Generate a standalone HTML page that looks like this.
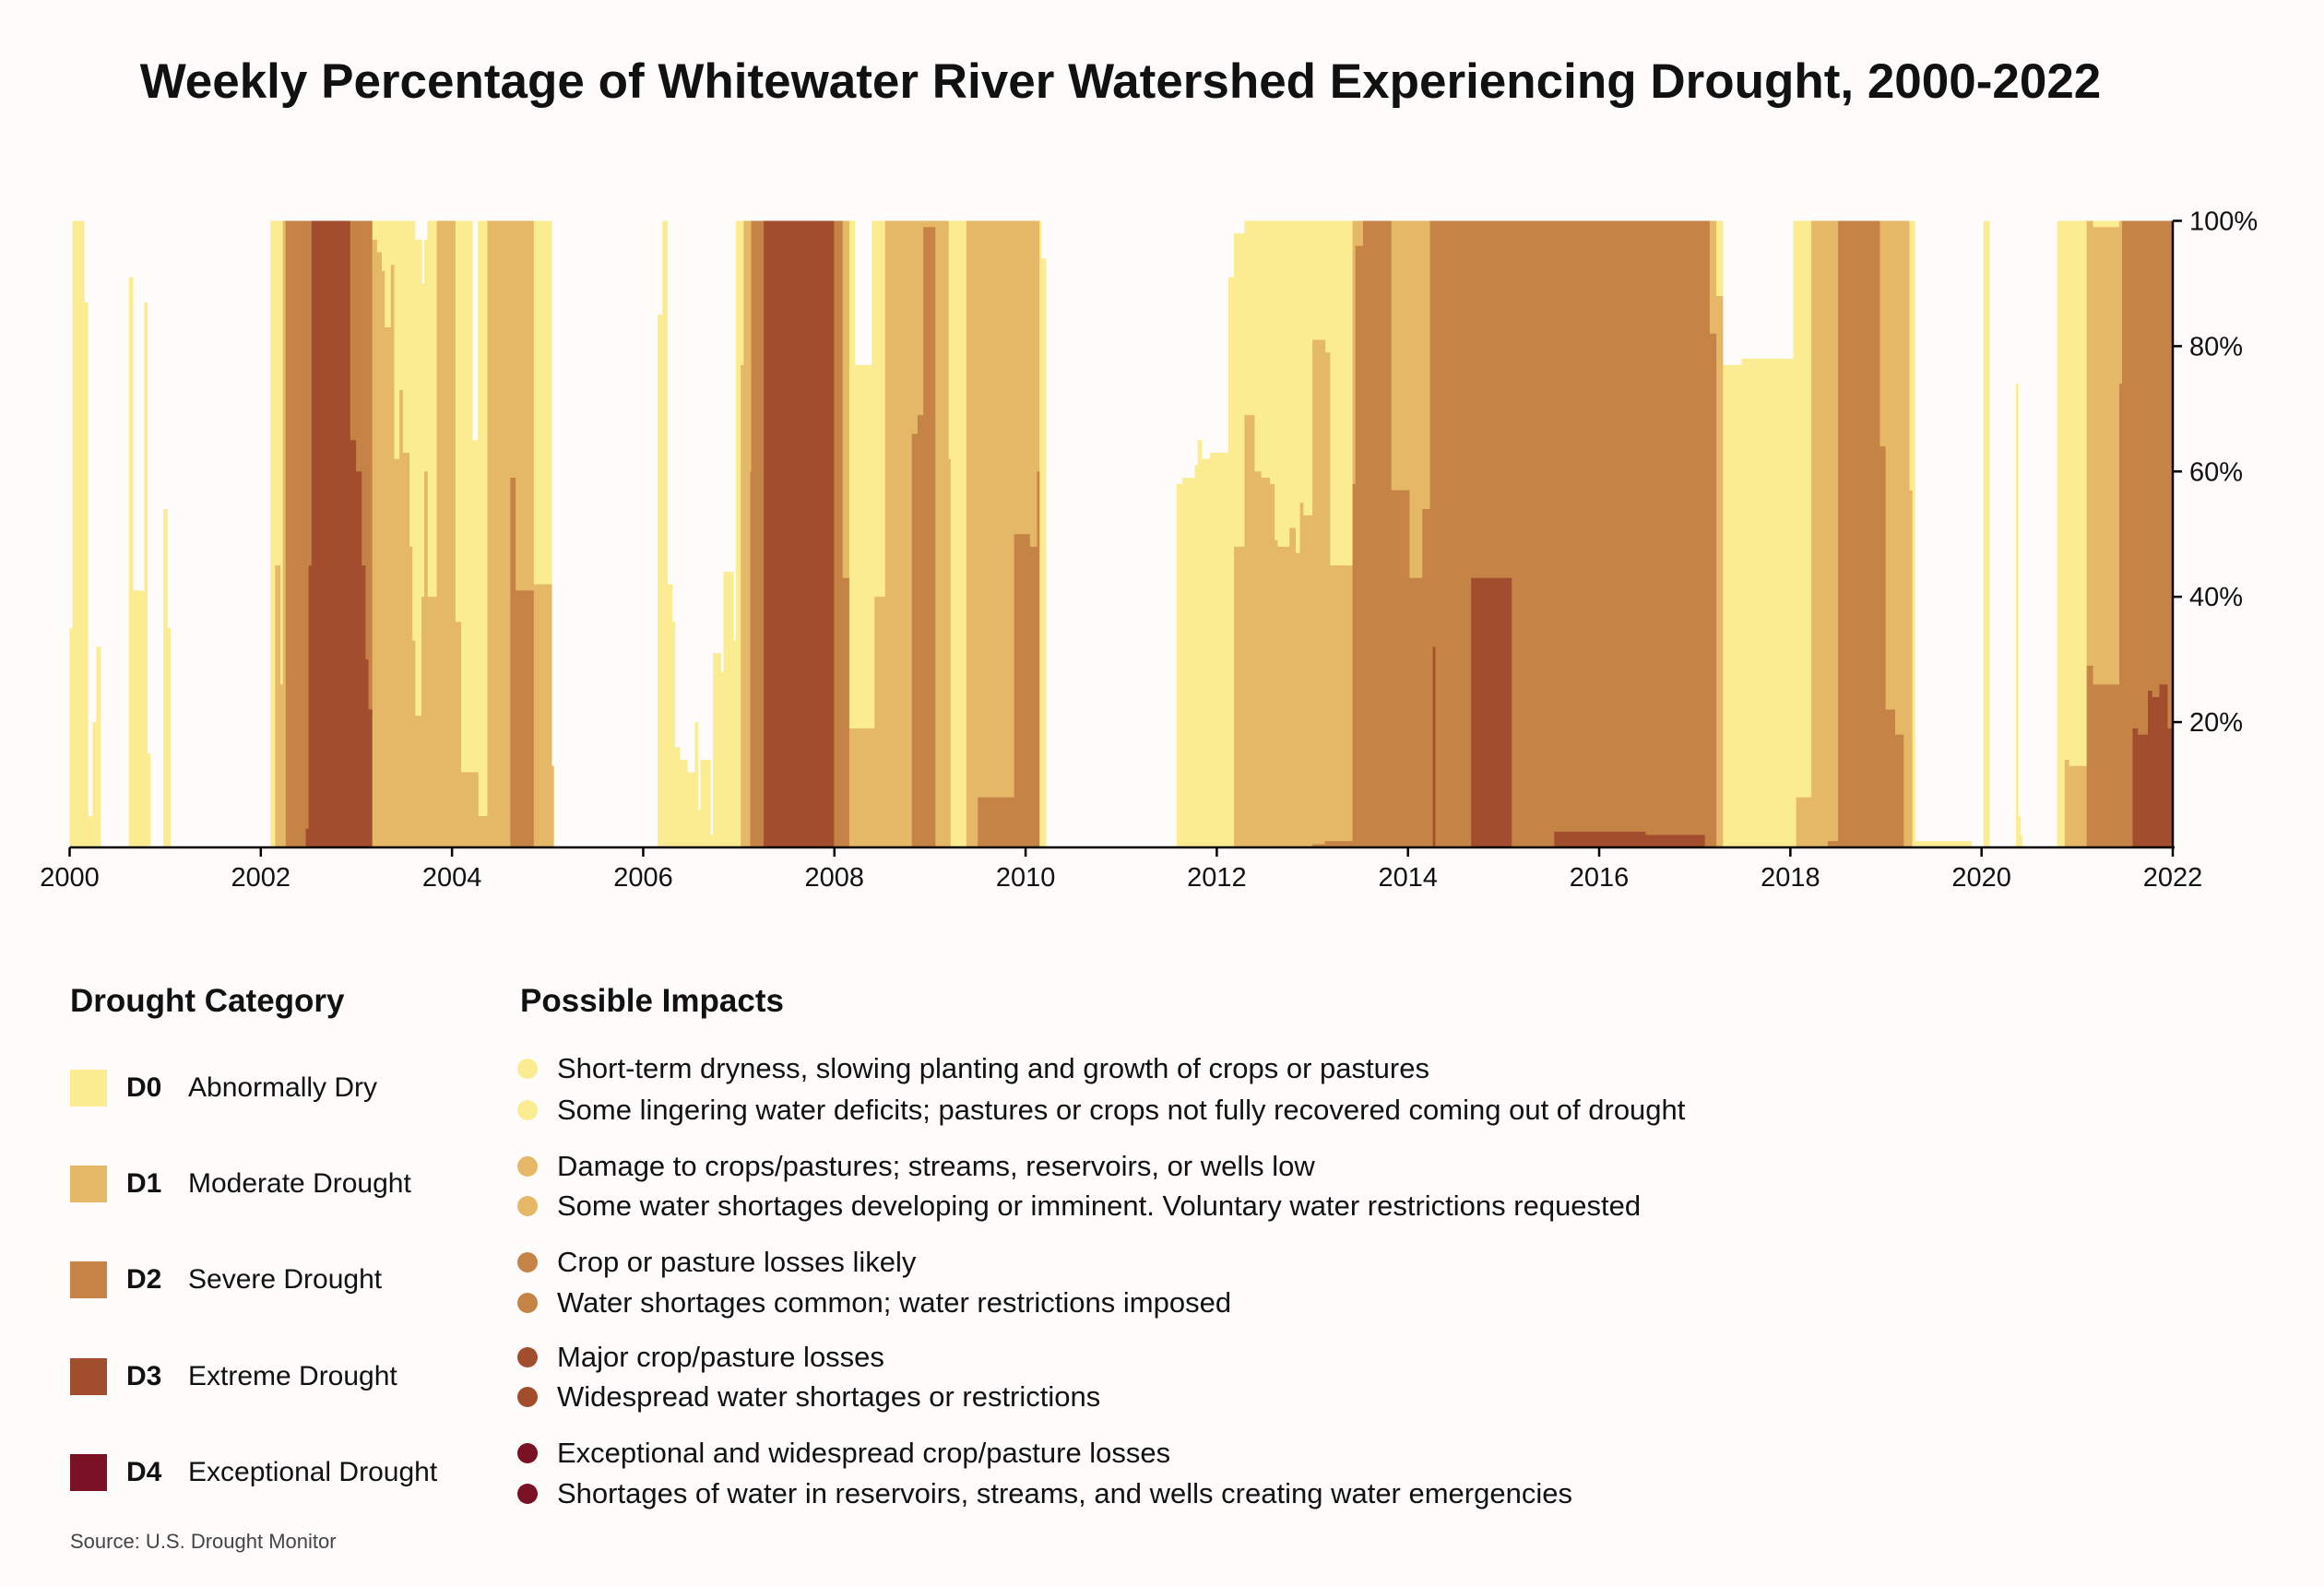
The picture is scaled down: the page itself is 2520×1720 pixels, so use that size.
<!DOCTYPE html>
<html><head><meta charset="utf-8">
<style>
html,body{margin:0;padding:0;background:#fefbfb;}
body{width:2520px;height:1720px;position:relative;overflow:hidden;font-family:"Liberation Sans",sans-serif;color:#111;}
.abs{position:absolute;white-space:nowrap;}
.title{left:0;width:2430px;text-align:center;top:58px;font-size:53px;font-weight:bold;}
.h{font-size:35px;font-weight:bold;}
.sw{width:40px;height:40px;}
.lab{font-size:30px;}
.dot{width:22px;height:22px;border-radius:50%;}
.imp{font-size:31px;}
</style></head><body>
<div class="abs title">Weekly Percentage of Whitewater River Watershed Experiencing Drought, 2000-2022</div>
<svg id="chart" width="2520" height="1040" style="position:absolute;left:0;top:0"></svg>

<div class="abs h" style="left:76px;top:1066px">Drought Category</div>
<div class="abs h" style="left:564px;top:1066px">Possible Impacts</div>
<div id="legend"></div>
<div class="abs" style="left:76px;top:1659px;font-size:22px;color:#444">Source: U.S. Drought Monitor</div>

<script>
// segment start (years since 2000) and cumulative % at or above each category
const segStart=[0,0.03,0.15,0.19,0.24,0.28,0.32,0.62,0.66,0.78,0.81,0.84,0.98,1.02,1.05,
2.10,2.15,2.20,2.23,2.26,2.47,2.50,2.53,2.93,2.99,3.05,3.09,3.12,
3.16,3.21,3.26,3.29,3.36,3.39,3.45,3.48,3.55,3.58,3.61,3.68,3.71,3.74,3.84,4.03,4.09,4.21,4.27,4.37,4.61,4.66,4.85,5.04,5.06,
6.15,6.20,6.25,6.30,6.33,6.38,6.46,6.54,6.57,6.60,6.70,6.73,6.81,6.84,6.94,6.97,7.02,7.05,7.12,7.13,7.26,7.99,8.08,8.15,8.21,8.39,8.42,8.53,8.81,8.87,8.93,9.05,9.19,9.21,9.38,9.50,9.88,10.04,10.12,10.14,10.16,10.21,
11.58,11.64,11.77,11.80,11.84,11.93,12.12,12.18,12.29,12.39,12.46,12.55,12.60,12.63,12.76,12.82,12.87,12.90,13.00,13.13,13.18,13.42,13.45,13.53,13.82,14.01,14.15,14.23,14.26,14.28,14.66,15.08,15.53,16.48,17.10,17.15,17.22,17.29,17.49,18.03,18.06,18.22,18.39,18.50,18.93,18.99,19.09,19.18,19.24,19.27,19.30,19.89,20.02,20.08,20.36,20.38,20.40,20.42,20.79,20.87,20.91,21.10,21.16,21.44,21.47,21.58,21.63,21.74,21.78,21.86,21.94];
const d0=[35,100,87,5,20,32,0,91,41,87,15,0,54,35,0,
100,100,100,100,100,100,100,100,100,100,100,100,100,
100,100,100,100,100,100,100,100,100,100,97,90,97,100,100,100,100,65,100,100,100,100,100,13,0,
85,100,42,36,16,14,12,20,6,14,2,31,28,44,33,100,100,100,100,100,100,100,100,100,77,100,100,100,100,100,100,100,100,100,100,100,100,100,100,100,94,0,
58,59,61,65,62,63,91,98,100,100,100,100,100,100,100,100,100,100,100,100,100,100,100,100,100,100,100,100,100,100,100,100,100,100,100,100,100,77,78,100,100,100,100,100,100,100,100,100,100,100,1,0,100,0,74,5,2,0,100,100,100,100,100,100,100,100,100,100,100,100,100];
const d1=[0,0,0,0,0,0,0,0,0,0,0,0,0,0,0,
0,45,26,100,100,100,100,100,100,100,100,100,100,
97,95,92,83,93,62,73,63,48,33,21,40,60,40,100,36,12,12,5,100,100,100,42,13,0,
0,0,0,0,0,0,0,0,0,0,0,0,0,0,0,0,77,100,100,100,100,100,100,19,19,19,40,100,100,100,100,100,62,0,100,100,100,100,100,0,0,0,
0,0,0,0,0,0,0,48,69,60,59,58,49,48,51,47,55,53,81,79,45,100,100,100,100,100,100,100,100,100,100,100,100,100,100,100,88,0,0,0,8,100,100,100,100,100,100,100,57,0,0,0,0,0,0,0,0,0,0,14,13,100,99,100,100,100,100,100,100,100,100];
const d2=[0,0,0,0,0,0,0,0,0,0,0,0,0,0,0,
0,0,0,0,100,100,100,100,100,100,100,100,100,
0,0,0,0,0,0,0,0,0,0,0,0,0,0,0,0,0,0,0,0,59,41,0,0,0,
0,0,0,0,0,0,0,0,0,0,0,0,0,0,0,0,0,0,60,100,100,100,43,0,0,0,0,0,66,69,99,0,0,0,0,8,50,48,60,0,0,0,
0,0,0,0,0,0,0,0,0,0,0,0,0,0,0,0,0,0,0.5,1,1,58,96,100,57,43,54,100,100,100,100,100,100,100,100,82,0,0,0,0,0,0,1,100,64,22,18,0,0,0,0,0,0,0,0,0,0,0,0,0,0,29,26,74,100,100,100,100,100,100,100];
const d3=[0,0,0,0,0,0,0,0,0,0,0,0,0,0,0,
0,0,0,0,0,3,45,100,65,60,45,30,22,
0,0,0,0,0,0,0,0,0,0,0,0,0,0,0,0,0,0,0,0,0,0,0,0,0,
0,0,0,0,0,0,0,0,0,0,0,0,0,0,0,0,0,0,0,0,100,0,0,0,0,0,0,0,0,0,0,0,0,0,0,0,0,0,0,0,0,0,
0,0,0,0,0,0,0,0,0,0,0,0,0,0,0,0,0,0,0,0,0,0,0,0,0,0,0,0,32,0,43,0,2.5,2,0,0,0,0,0,0,0,0,0,0,0,0,0,0,0,0,0,0,0,0,0,0,0,0,0,0,0,0,0,0,0,19,18,25,24,26,19,19];
const yTicks=[20,40,60,80,100];
const xTicks=[2000,2002,2004,2006,2008,2010,2012,2014,2016,2018,2020,2022];
const colors=["#fbec92","#e4b866","#c68346","#a24e2e"];

const X0=75.5,X1=2356,Y0=919,Y1=239.5;
const xs=t=>X0+t/22*(X1-X0);
const ys=v=>Y0-v/100*(Y0-Y1);
const NS="http://www.w3.org/2000/svg";
const svg=document.getElementById('chart');
function mk(tag,a){const e=document.createElementNS(NS,tag);for(const k in a)e.setAttribute(k,a[k]);svg.appendChild(e);return e;}
const series=[d0,d1,d2,d3];
series.forEach((arr,si)=>{
  for(let i=0;i<segStart.length;i++){
    if(arr[i]<=0)continue;
    const t0=segStart[i],t1=i+1<segStart.length?segStart[i+1]:22;
    const r=mk('rect',{x:xs(t0),y:ys(arr[i]),width:xs(t1)-xs(t0)+0.6,height:Y0-ys(arr[i]),fill:colors[si]});
    
    
  }
});
const ax=mk('line',{x1:X0,y1:Y0,x2:X1+2,y2:Y0,stroke:'#000','stroke-width':2.5});


const ay=mk('line',{x1:X1,y1:Y1,x2:X1,y2:Y0,stroke:'#000','stroke-width':2.5});


xTicks.forEach(yr=>{
  const x=xs(yr-2000);
  mk('line',{x1:x,y1:Y0,x2:x,y2:Y0+10,stroke:'#000','stroke-width':2.5});
  const t=mk('text',{x:x,y:Y0+42,'text-anchor':'middle','font-size':29,'font-family':'Liberation Sans, sans-serif',fill:'#111'});
  t.textContent=yr;
  
  
});
yTicks.forEach(v=>{
  const y=ys(v);
  mk('line',{x1:X1,y1:y,x2:X1+10,y2:y,stroke:'#000','stroke-width':2.5});
  const t=mk('text',{x:X1+18,y:y+10,'font-size':29,'font-family':'Liberation Sans, sans-serif',fill:'#111'});
  t.textContent=v+'%';
  
  
});

// legend
const cats=[["D0","Abnormally Dry","#fbec92"],["D1","Moderate Drought","#e4b866"],["D2","Severe Drought","#c68346"],["D3","Extreme Drought","#a24e2e"],["D4","Exceptional Drought","#7a1125"]];
const imps=[["Short-term dryness, slowing planting and growth of crops or pastures","Some lingering water deficits; pastures or crops not fully recovered coming out of drought"],
["Damage to crops/pastures; streams, reservoirs, or wells low","Some water shortages developing or imminent. Voluntary water restrictions requested"],
["Crop or pasture losses likely","Water shortages common; water restrictions imposed"],
["Major crop/pasture losses","Widespread water shortages or restrictions"],
["Exceptional and widespread crop/pasture losses","Shortages of water in reservoirs, streams, and wells creating water emergencies"]];
const rowY=[1180,1284,1388,1493,1597];
const impY=[[1159,1204],[1265,1308],[1369,1413],[1472,1515],[1576,1620]];
const L=document.getElementById('legend');
cats.forEach((c,i)=>{
  const s=document.createElement('div');s.className='abs sw';s.style.left='76px';s.style.top=(rowY[i]-20)+'px';s.style.background=c[2];
  
  
  L.appendChild(s);
  const a=document.createElement('div');a.className='abs lab';a.style.left='137px';a.style.top=(rowY[i]-17)+'px';a.style.fontWeight='bold';a.textContent=c[0];
  
  
  L.appendChild(a);
  const b=document.createElement('div');b.className='abs lab';b.style.left='204px';b.style.top=(rowY[i]-17)+'px';b.textContent=c[1];
  
  
  L.appendChild(b);
  imps[i].forEach((txt,j)=>{
    const d=document.createElement('div');d.className='abs dot';d.style.left='561px';d.style.top=(impY[i][j]-11)+'px';d.style.background=c[2];
    
    
    L.appendChild(d);
    const t=document.createElement('div');t.className='abs imp';t.style.left='604px';t.style.top=(impY[i][j]-18)+'px';t.textContent=txt;
    
    
    L.appendChild(t);
  });
});
</script>
</body></html>
